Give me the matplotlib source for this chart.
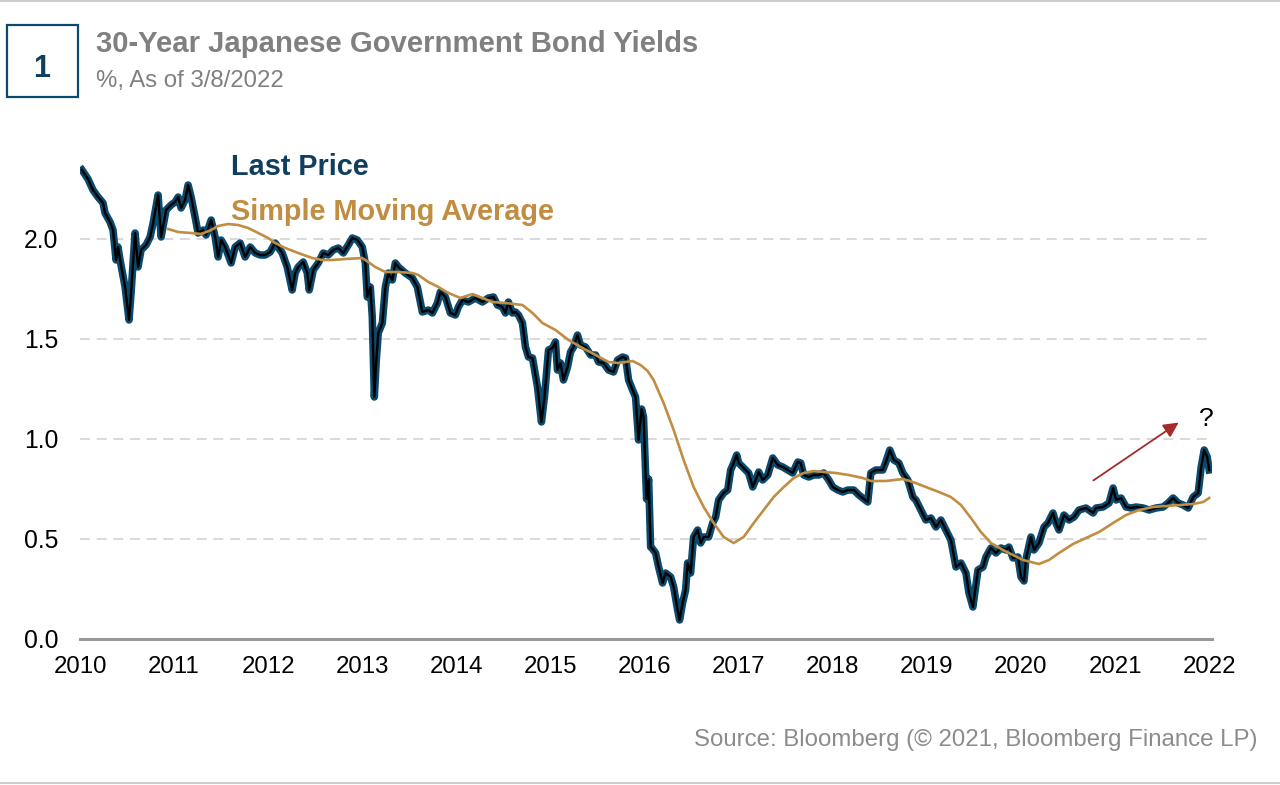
import matplotlib
matplotlib.use("Agg")
import matplotlib.pyplot as plt
from matplotlib.patches import Rectangle

plt.rcParams["font.family"] = ["Liberation Sans", "DejaVu Sans"]

# ── Data (decimal years, yield in %) ────────────────────────────────────────
last_x = [
    2010.021, 2010.085, 2010.138, 2010.191, 2010.245, 2010.266, 2010.319, 2010.351,
    2010.383, 2010.404, 2010.426, 2010.479, 2010.521, 2010.543, 2010.585, 2010.617,
    2010.649, 2010.702, 2010.745, 2010.777, 2010.830, 2010.862, 2010.915, 2010.968,
    2011.011, 2011.043, 2011.074, 2011.117, 2011.149, 2011.181, 2011.223, 2011.255,
    2011.309, 2011.340, 2011.394, 2011.436, 2011.468, 2011.500, 2011.543, 2011.606,
    2011.649, 2011.702, 2011.755, 2011.809, 2011.862, 2011.915, 2011.968, 2012.021,
    2012.074, 2012.149, 2012.202, 2012.255, 2012.287, 2012.319, 2012.372, 2012.415,
    2012.436, 2012.479, 2012.532, 2012.585, 2012.638, 2012.691, 2012.745, 2012.798,
    2012.851, 2012.894, 2012.947, 2013.000, 2013.032, 2013.053, 2013.085, 2013.106,
    2013.128, 2013.149, 2013.170, 2013.213, 2013.245, 2013.277, 2013.319, 2013.351,
    2013.383, 2013.457, 2013.532, 2013.585, 2013.638, 2013.702, 2013.745, 2013.798,
    2013.830, 2013.883, 2013.936, 2013.989, 2014.021, 2014.064, 2014.128, 2014.202,
    2014.277, 2014.340, 2014.394, 2014.436, 2014.489, 2014.521, 2014.553, 2014.596,
    2014.628, 2014.660, 2014.702, 2014.734, 2014.766, 2014.809, 2014.862, 2014.904,
    2014.936, 2014.979, 2015.021, 2015.053, 2015.074, 2015.106, 2015.138, 2015.181,
    2015.213, 2015.245, 2015.287, 2015.319, 2015.372, 2015.426, 2015.479, 2015.511,
    2015.564, 2015.617, 2015.670, 2015.713, 2015.766, 2015.798, 2015.830, 2015.872,
    2015.904, 2015.936, 2015.968, 2015.989, 2016.021, 2016.043, 2016.064, 2016.085,
    2016.117, 2016.149, 2016.191, 2016.223, 2016.277, 2016.309, 2016.351, 2016.372,
    2016.404, 2016.436, 2016.457, 2016.489, 2016.521, 2016.564, 2016.596, 2016.628,
    2016.681, 2016.723, 2016.755, 2016.787, 2016.840, 2016.883, 2016.915, 2016.947,
    2016.979, 2017.000, 2017.053, 2017.106, 2017.149, 2017.181, 2017.213, 2017.255,
    2017.309, 2017.362, 2017.415, 2017.468, 2017.521, 2017.574, 2017.628, 2017.660,
    2017.691, 2017.745, 2017.798, 2017.851, 2017.904, 2017.957, 2018.000, 2018.053,
    2018.106, 2018.160, 2018.223, 2018.277, 2018.372, 2018.404, 2018.457, 2018.532,
    2018.564, 2018.606, 2018.649, 2018.702, 2018.745, 2018.798, 2018.851, 2018.883,
    2018.936, 2018.989, 2019.043, 2019.096, 2019.149, 2019.202, 2019.255, 2019.309,
    2019.362, 2019.415, 2019.447, 2019.489, 2019.543, 2019.596, 2019.628, 2019.681,
    2019.734, 2019.787, 2019.840, 2019.872, 2019.915, 2019.968, 2020.000, 2020.032,
    2020.053, 2020.106, 2020.138, 2020.191, 2020.245, 2020.287, 2020.340, 2020.372,
    2020.404, 2020.457, 2020.511, 2020.564, 2020.617, 2020.691, 2020.766, 2020.798,
    2020.872, 2020.936, 2020.979, 2021.011, 2021.064, 2021.117, 2021.170, 2021.223,
    2021.298, 2021.362, 2021.436, 2021.511, 2021.564, 2021.617, 2021.670, 2021.723,
    2021.777, 2021.830, 2021.883, 2021.915, 2021.947, 2021.979, 2022.000,
]
last_price = [
    2.345, 2.300, 2.245, 2.210, 2.180, 2.130, 2.085, 2.045,
    1.895, 1.960, 1.895, 1.760, 1.595, 1.730, 2.030, 1.860,
    1.945, 1.970, 2.010, 2.080, 2.220, 2.010, 2.145, 2.170,
    2.185, 2.210, 2.155, 2.195, 2.270, 2.210, 2.110, 2.030,
    2.045, 2.020, 2.095, 2.010, 1.910, 1.995, 1.960, 1.880,
    1.960, 1.980, 1.910, 1.960, 1.930, 1.920, 1.920, 1.935,
    1.980, 1.930, 1.860, 1.745, 1.830, 1.860, 1.885, 1.830,
    1.745, 1.845, 1.880, 1.930, 1.920, 1.945, 1.955, 1.930,
    1.970, 2.005, 1.995, 1.960, 1.880, 1.710, 1.760, 1.610,
    1.210, 1.395, 1.530, 1.580, 1.760, 1.830, 1.795, 1.880,
    1.860, 1.830, 1.805, 1.760, 1.635, 1.645, 1.630, 1.680,
    1.735, 1.710, 1.630, 1.620, 1.660, 1.695, 1.685, 1.705,
    1.685, 1.705, 1.710, 1.670, 1.660, 1.630, 1.685, 1.630,
    1.635, 1.620, 1.580, 1.460, 1.410, 1.405, 1.260, 1.085,
    1.210, 1.445, 1.455, 1.485, 1.345, 1.380, 1.295, 1.360,
    1.435, 1.460, 1.520, 1.470, 1.460, 1.420, 1.420, 1.385,
    1.380, 1.345, 1.335, 1.395, 1.410, 1.405, 1.295, 1.245,
    1.210, 0.995, 1.150, 1.110, 0.700, 0.800, 0.460, 0.450,
    0.430, 0.360, 0.280, 0.330, 0.310, 0.260, 0.145, 0.095,
    0.180, 0.245, 0.380, 0.330, 0.510, 0.545, 0.480, 0.510,
    0.510, 0.580, 0.610, 0.695, 0.730, 0.745, 0.845, 0.880,
    0.920, 0.880, 0.855, 0.830, 0.760, 0.795, 0.835, 0.795,
    0.820, 0.905, 0.870, 0.860, 0.845, 0.830, 0.885, 0.880,
    0.820, 0.810, 0.820, 0.820, 0.830, 0.795, 0.760, 0.745,
    0.735, 0.745, 0.745, 0.720, 0.685, 0.830, 0.845, 0.845,
    0.885, 0.945, 0.895, 0.880, 0.830, 0.795, 0.710, 0.695,
    0.645, 0.595, 0.605, 0.560, 0.595, 0.545, 0.495, 0.360,
    0.380, 0.330, 0.230, 0.160, 0.345, 0.360, 0.410, 0.455,
    0.430, 0.455, 0.445, 0.460, 0.405, 0.410, 0.310, 0.290,
    0.400, 0.510, 0.445, 0.480, 0.560, 0.580, 0.630, 0.580,
    0.545, 0.620, 0.595, 0.610, 0.645, 0.655, 0.630, 0.655,
    0.660, 0.680, 0.755, 0.695, 0.705, 0.660, 0.655, 0.660,
    0.655, 0.645, 0.655, 0.660, 0.680, 0.705, 0.680, 0.670,
    0.655, 0.710, 0.730, 0.860, 0.945, 0.910, 0.845,
]

sma_x = [
    2010.936, 2011.043, 2011.181, 2011.287, 2011.394, 2011.468, 2011.574, 2011.681,
    2011.787, 2011.894, 2012.000, 2012.074, 2012.181, 2012.319, 2012.468, 2012.574,
    2012.681, 2012.819, 2013.000, 2013.064, 2013.138, 2013.245, 2013.383, 2013.532,
    2013.596, 2013.702, 2013.809, 2013.915, 2014.043, 2014.170, 2014.277, 2014.383,
    2014.521, 2014.702, 2014.809, 2014.915, 2015.053, 2015.191, 2015.340, 2015.479,
    2015.617, 2015.723, 2015.872, 2015.957, 2016.032, 2016.096, 2016.202, 2016.309,
    2016.415, 2016.521, 2016.628, 2016.734, 2016.840, 2016.947, 2017.053, 2017.160,
    2017.266, 2017.372, 2017.479, 2017.585, 2017.691, 2017.798, 2017.904, 2018.032,
    2018.170, 2018.319, 2018.404, 2018.564, 2018.745, 2018.851, 2018.989, 2019.128,
    2019.255, 2019.362, 2019.468, 2019.574, 2019.681, 2019.809, 2019.915, 2020.021,
    2020.106, 2020.191, 2020.298, 2020.404, 2020.553, 2020.691, 2020.830, 2020.979,
    2021.117, 2021.255, 2021.404, 2021.543, 2021.681, 2021.830, 2021.936, 2022.000,
]
sma_value = [
    2.050, 2.035, 2.030, 2.025, 2.045, 2.065, 2.075, 2.070,
    2.055, 2.030, 2.005, 1.980, 1.955, 1.930, 1.905, 1.895,
    1.895, 1.900, 1.905, 1.885, 1.860, 1.835, 1.835, 1.830,
    1.820, 1.785, 1.760, 1.730, 1.705, 1.725, 1.705, 1.685,
    1.680, 1.670, 1.630, 1.580, 1.545, 1.495, 1.455, 1.420,
    1.385, 1.380, 1.390, 1.370, 1.340, 1.295, 1.180, 1.045,
    0.895, 0.760, 0.660, 0.580, 0.510, 0.480, 0.510, 0.580,
    0.645, 0.710, 0.760, 0.805, 0.830, 0.840, 0.835, 0.830,
    0.820, 0.805, 0.790, 0.790, 0.800, 0.785, 0.760, 0.735,
    0.710, 0.670, 0.605, 0.535, 0.480, 0.445, 0.420, 0.395,
    0.385, 0.375, 0.395, 0.430, 0.475, 0.505, 0.535, 0.580,
    0.620, 0.645, 0.660, 0.665, 0.670, 0.675, 0.685, 0.705,
]

year_ticks = list(range(2010, 2023))
yield_ticks = [0.0, 0.5, 1.0, 1.5, 2.0]

# arrow annotation (tail -> head) and "?" label
arrow_tail = (2020.745, 0.785)
arrow_head = (2021.700, 1.090)
question_pos = (2021.970, 1.100)

TEAL = "#0b4a6c"
TEAL_TEXT = "#0f3e5e"
GOLD = "#c08d42"
GREY = "#808080"

fig = plt.figure(figsize=(12.8, 7.85), dpi=100)

# header: numbered box + title
fig.patches.append(Rectangle((7 / 1280, 1 - 97 / 785), 71 / 1280, 72 / 785,
                             transform=fig.transFigure, fill=False,
                             edgecolor=TEAL, linewidth=1.6))
fig.text(42 / 1280, 1 - 77 / 785, "1", ha="center", va="baseline",
         fontsize=22, fontweight="bold", color=TEAL_TEXT)
fig.text(96 / 1280, 1 - 52.5 / 785, "30-Year Japanese Government Bond Yields",
         ha="left", va="baseline", fontsize=21.1, fontweight="bold", color=GREY)
fig.text(96 / 1280, 1 - 86.5 / 785, "%, As of 3/8/2022",
         ha="left", va="baseline", fontsize=17.3, color=GREY)

# top / bottom rules
fig.add_artist(plt.Line2D([0, 1], [1 - 1 / 785, 1 - 1 / 785],
                          transform=fig.transFigure, color="#cccccc", lw=1.5))
fig.add_artist(plt.Line2D([0, 1], [2 / 785, 2 / 785],
                          transform=fig.transFigure, color="#cccccc", lw=1.5))

ax = fig.add_axes([80 / 1280, 1 - 639 / 785, 1132 / 1280, 480 / 785])
ax.set_xlim(2010, 2022.03)
ax.set_ylim(0, 2.4)

ax.plot(last_x, last_price, color=TEAL, lw=5.4, solid_joinstyle="round", zorder=3)
ax.plot(last_x, last_price, color="black", lw=1.7, solid_joinstyle="round", zorder=4)
ax.plot(sma_x, sma_value, color=GOLD, lw=1.9, zorder=5)

ax.set_yticks(yield_ticks)
ax.set_yticklabels([f"{v:.1f}" for v in yield_ticks])
ax.set_xticks(year_ticks)
ax.set_xticklabels([str(y) for y in year_ticks])
ax.tick_params(axis="both", length=0, colors="black")
ax.tick_params(axis="x", labelsize=17.3, pad=12.5)
ax.tick_params(axis="y", labelsize=17.8, pad=15.5)

for v in yield_ticks[1:]:
    ax.axhline(v, color="#d3d3d3", lw=1.2, ls=(0, (6, 4)), zorder=1)

for side in ["left", "right", "top"]:
    ax.spines[side].set_visible(False)
ax.spines["bottom"].set_color("#999999")
ax.spines["bottom"].set_linewidth(2.2)

# legend as coloured text
ax.text(2011.60, 2.32, "Last Price", fontsize=20.8, fontweight="bold",
        color=TEAL_TEXT, ha="left", va="baseline")
ax.text(2011.60, 2.095, "Simple Moving Average", fontsize=20.8, fontweight="bold",
        color=GOLD, ha="left", va="baseline")

ax.annotate("", xy=arrow_head, xytext=arrow_tail,
            arrowprops=dict(arrowstyle="-|>,head_length=0.9,head_width=0.45",
                            color="#a52a2a", lw=1.3))
ax.text(question_pos[0], question_pos[1], "?", fontsize=19, ha="center",
        va="center", color="black")

fig.text(1257 / 1280, 1 - 740 / 785,
         "Source: Bloomberg (\u00a9 2021, Bloomberg Finance LP)",
         ha="right", va="center", fontsize=17.3, color="#8c8c8c")

fig.savefig("out.png", dpi=100, facecolor="white")
